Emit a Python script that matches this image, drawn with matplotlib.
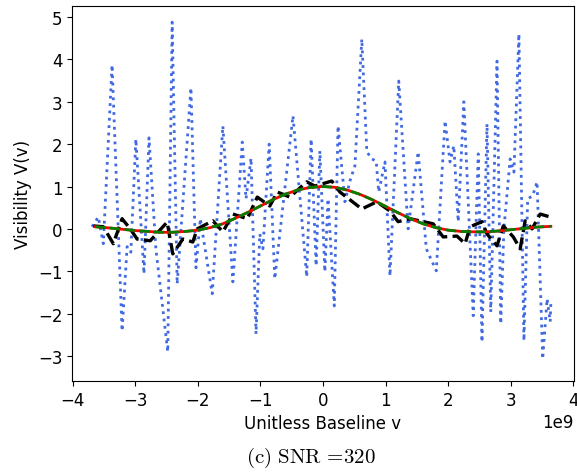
import numpy as np
import matplotlib
matplotlib.use("Agg")
import matplotlib.pyplot as plt

plt.rcParams['mathtext.fontset'] = 'cm'
plt.rcParams['font.size'] = 12

# noisy visibility samples (baseline in units of 1e9)
x_noisy = np.array([-3.69, -3.59, -3.51, -3.37, -3.21, -3.13, -3.07, -2.99, -2.86, -2.78,
                    -2.67, -2.48, -2.41, -2.33, -2.11, -2.03, -1.96, -1.77, -1.60, -1.44,
                    -1.29, -1.23, -1.15, -1.07, -1.01, -0.96, -0.86, -0.77, -0.48, -0.26,
                    -0.19, -0.11, -0.05, 0.03, 0.08, 0.18, 0.24, 0.35, 0.43, 0.51,
                    0.62, 0.70, 0.78, 0.85, 0.89, 0.99, 1.07, 1.21, 1.36, 1.52,
                    1.65, 1.81, 1.95, 2.03, 2.09, 2.16, 2.25, 2.40, 2.48, 2.54,
                    2.62, 2.68, 2.78, 2.84, 2.89, 2.99, 3.05, 3.13, 3.21, 3.27,
                    3.35, 3.42, 3.51, 3.58, 3.63, 3.64])
v_noisy = np.array([0.05, 0.28, -0.35, 3.87, -2.41, -0.42, -0.55, 2.12, -1.06, 2.15,
                    -0.47, -2.90, 4.88, -1.30, 3.33, -0.92, 0.24, -1.53, 2.43, -1.25,
                    2.05, 0.71, 1.67, -2.48, -0.12, -0.47, 2.00, -1.18, 2.67, -1.13,
                    2.12, -0.87, 1.84, -1.01, 0.71, -1.82, 2.43, 0.64, 1.13, 1.49,
                    4.48, 1.82, 1.65, 1.60, 0.87, 1.58, -1.11, 3.49, 0.00, 1.82,
                    -0.47, -0.99, 2.55, 1.58, 1.96, 0.17, 3.00, -2.05, 1.77, -2.67,
                    2.48, -1.96, 3.96, -2.24, 0.00, 1.65, 1.34, 4.60, -2.64, 0.71,
                    0.78, 1.11, -3.07, -1.65, -2.19, -1.77])

# less noisy estimate
x_est = np.array([-3.67, -3.51, -3.35, -3.21, -3.08, -2.97, -2.76, -2.49, -2.40, -2.24,
                  -2.08, -2.01, -1.76, -1.60, -1.44, -1.21, -1.05, -0.85, -0.73, -0.53,
                  -0.26, -0.13, 0.14, 0.27, 0.62, 0.86, 1.07, 1.20, 1.39, 1.76,
                  1.92, 2.14, 2.27, 2.35, 2.54, 2.62, 2.78, 2.88, 3.04, 3.15,
                  3.23, 3.34, 3.47, 3.63])
v_est = np.array([0.07, 0.05, -0.35, 0.24, 0.00, -0.24, -0.28, 0.16, -0.59, -0.24,
                  -0.31, 0.00, 0.19, -0.07, 0.35, 0.24, 0.75, 0.54, 0.87, 0.75,
                  1.11, 1.01, 1.13, 0.87, 0.47, 0.64, 0.42, 0.17, 0.24, 0.12,
                  -0.19, -0.17, -0.35, 0.05, 0.17, -0.12, -0.40, 0.07, -0.19, -0.47,
                  0.19, 0.00, 0.35, 0.28])

# true / model visibility
x_true = np.array([-3.64, -3.4, -3.2, -3.0, -2.8, -2.6, -2.4, -2.2, -2.0, -1.8,
                   -1.6, -1.4, -1.2, -1.0, -0.8, -0.6, -0.4, -0.2, 0.0, 0.2,
                   0.4, 0.6, 0.8, 1.0, 1.2, 1.4, 1.6, 1.8, 2.0, 2.2,
                   2.4, 2.6, 2.8, 3.0, 3.2, 3.4, 3.64])
v_true = np.array([0.05, 0.02, -0.01, -0.04, -0.06, -0.08, -0.08, -0.06, -0.03, 0.03,
                   0.12, 0.25, 0.39, 0.54, 0.69, 0.82, 0.92, 0.98, 1.00, 0.98,
                   0.91, 0.81, 0.68, 0.53, 0.38, 0.24, 0.12, 0.03, -0.03, -0.06,
                   -0.07, -0.07, -0.05, -0.02, 0.01, 0.04, 0.06])

fig = plt.figure(figsize=(5.77, 4.77), dpi=100)
ax = fig.add_axes([0.1248, 0.1992, 0.870, 0.7861])

ax.plot(x_noisy * 1e9, v_noisy, ':', color='royalblue', lw=2)
ax.plot(x_est * 1e9, v_est, '--', color='black', lw=2.4)
ax.plot(x_true * 1e9, v_true, '-', color='red', lw=2)
ax.plot(x_true * 1e9, v_true, '--', color='green', lw=2)

ax.set_xlim(-4.01e9, 4.01e9)
ax.set_ylim(-3.59, 5.26)
ax.set_xlabel('Unitless Baseline v')
ax.set_ylabel('Visibility V(v)')

fig.text(0.539, 0.04, r'$\mathrm{(c)\ SNR\ \!=\!320}$', ha='center', va='center', fontsize=15)

fig.savefig('out.png', dpi=100)
